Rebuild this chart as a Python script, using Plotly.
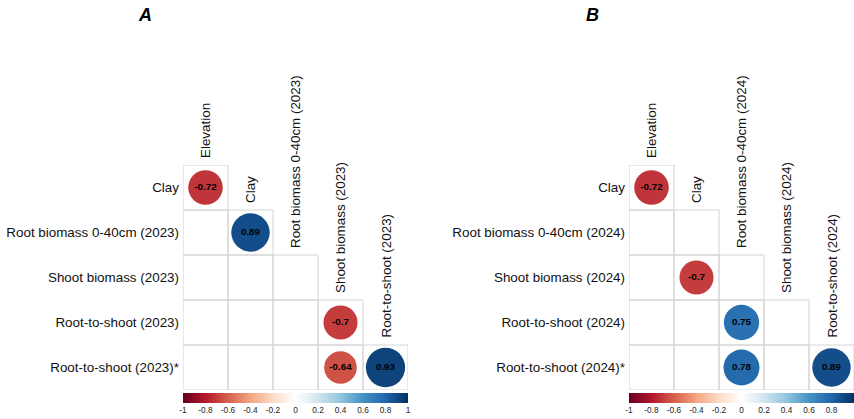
import plotly.graph_objects as go

# Variables of each correlation matrix (first = leftmost column, last = bottom row)
vars_a = ["Elevation", "Clay", "Root biomass 0-40cm (2023)", "Shoot biomass (2023)",
          "Root-to-shoot (2023)", "Root-to-shoot (2023)*"]
vars_b = ["Elevation", "Clay", "Root biomass 0-40cm (2024)", "Shoot biomass (2024)",
          "Root-to-shoot (2024)", "Root-to-shoot (2024)*"]

# Lower triangle: row i is vars[i+1], column j is vars[j] (j <= i); None = not shown
corr_a = [
    [-0.72],
    [None, 0.89],
    [None, None, None],
    [None, None, None, -0.7],
    [None, None, None, -0.64, 0.93],
]
corr_b = [
    [-0.72],
    [None, None],
    [None, -0.7, None],
    [None, None, 0.75, None],
    [None, None, 0.78, None, 0.89],
]

cbar_ticks = [-1, -0.8, -0.6, -0.4, -0.2, 0, 0.2, 0.4, 0.6, 0.8, 1]

# RdBu diverging palette
rdbu = ["#67001F", "#B2182B", "#D6604D", "#F4A582", "#FDDBC7", "#FFFFFF",
        "#D1E5F0", "#92C5DE", "#4393C3", "#2166AC", "#053061"]
colorscale = [[k / (len(rdbu) - 1), c] for k, c in enumerate(rdbu)]

W, H = 854, 419
CELL = 45           # px per matrix cell
TOP = 165           # px, top of the grid
LEFTS = [183, 629]  # px, left edge of each grid
FONT = "Arial, Liberation Sans, sans-serif"
LABEL_SIZE = 13.4

fig = go.Figure()
annotations = []
shapes = []

panels = [("A", vars_a, corr_a), ("B", vars_b, corr_b)]
for p, (tag, names, corr) in enumerate(panels):
    n = len(corr)
    xa = "x" if p == 0 else "x2"
    ya = "y" if p == 0 else "y2"
    left = LEFTS[p]

    # grid of the lower triangle
    for i in range(n):
        for j in range(i + 1):
            shapes.append(dict(type="rect", xref=xa, yref=ya,
                               x0=j - 0.5, x1=j + 0.5, y0=i - 0.5, y1=i + 0.5,
                               line=dict(color="#d4d4d4", width=1), layer="below"))

    xs, ys, vals, sizes, texts = [], [], [], [], []
    for i, row in enumerate(corr):
        for j, v in enumerate(row):
            if v is None:
                continue
            xs.append(j)
            ys.append(i)
            vals.append(v)
            sizes.append(0.905 * CELL * abs(v) ** 0.5)  # circle area ~ |r|
            texts.append(f"{v:g}")

    fig.add_trace(go.Scatter(
        x=xs, y=ys, xaxis=xa, yaxis=ya, mode="markers+text",
        text=texts, textposition="middle center",
        textfont=dict(family=FONT, size=9.8, color="black", weight="bold"),
        marker=dict(size=sizes, color=vals, cmin=-1, cmax=1, colorscale=colorscale,
                    line=dict(width=0), opacity=1,
                    showscale=True,
                    colorbar=dict(orientation="h", thickness=10,
                                  lenmode="pixels", len=5 * CELL,
                                  x=(left + 2.5 * CELL) / W, xanchor="center",
                                  y=1 - 393 / H, yanchor="top",
                                  xpad=0, ypad=0, outlinewidth=0,
                                  tickvals=cbar_ticks,
                                  ticktext=[f"{t:g}" for t in cbar_ticks],
                                  ticks="", tickfont=dict(family=FONT, size=8.3, color="#222"))),
        hoverinfo="skip", showlegend=False, cliponaxis=False))

    # column headers along the staircase
    for j in range(n):
        annotations.append(dict(xref=xa, yref=ya, x=j, y=j - 0.5, text=names[j],
                                textangle=-90, xanchor="center", yanchor="bottom",
                                yshift=5, showarrow=False,
                                font=dict(family=FONT, size=LABEL_SIZE, color="#111")))

    # panel letter
    annotations.append(dict(xref="paper", yref="paper",
                            x=(145 if p == 0 else 592) / W, y=1 - 15 / H,
                            text=f"<b><i>{tag}</i></b>", showarrow=False,
                            xanchor="center", yanchor="middle",
                            font=dict(family=FONT, size=18, color="black")))

    axis_common = dict(showgrid=False, zeroline=False, showline=False, ticks="")
    xdom = [left / W, min(1.0, (left + n * CELL) / W)]
    ydom = [1 - (TOP + n * CELL) / H, 1 - TOP / H]
    xkey = "xaxis" if p == 0 else "xaxis2"
    ykey = "yaxis" if p == 0 else "yaxis2"
    fig.update_layout(**{
        xkey: dict(domain=xdom, range=[-0.5, n - 0.5], showticklabels=False,
                   anchor=ya, **axis_common),
        ykey: dict(domain=ydom, range=[n - 0.5, -0.5], anchor=xa,
                   tickmode="array", tickvals=list(range(n)), ticktext=names[1:],
                   tickfont=dict(family=FONT, size=LABEL_SIZE, color="#111"),
                   ticklabelstandoff=3,
                   **axis_common),
    })

fig.update_layout(width=W, height=H, margin=dict(l=0, r=0, t=0, b=0),
                  paper_bgcolor="white", plot_bgcolor="white",
                  shapes=shapes, annotations=annotations)

fig.write_html("out.html")
